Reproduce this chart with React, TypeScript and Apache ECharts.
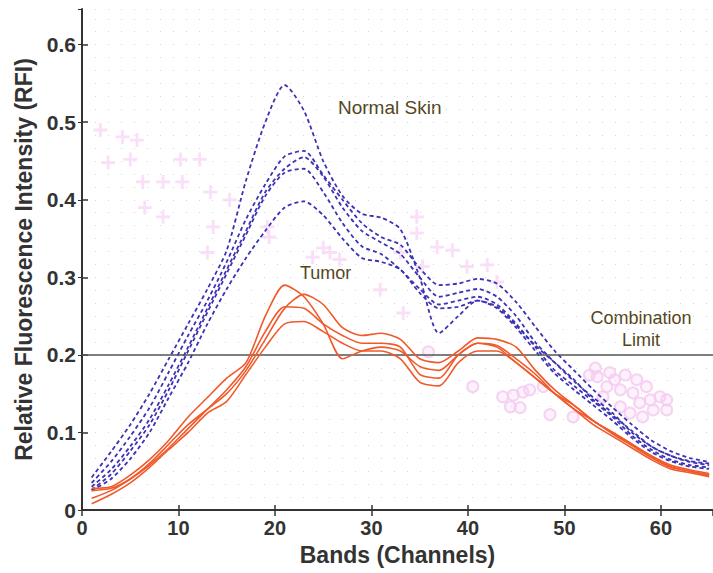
import React, { useEffect, useRef } from "react";
import * as echarts from "echarts";

// Band (channel) positions at which the curves were read
const bands = [1, 3, 5, 7, 9, 11, 13, 15, 17, 19, 21, 23, 25, 27, 29, 31, 33, 35, 37, 39, 41, 43, 45, 47, 49, 51, 53, 55, 57, 59, 61, 63, 65];

// Normal skin spectra (dashed blue)
const normal1 = [0.042, 0.075, 0.11, 0.15, 0.195, 0.24, 0.285, 0.335, 0.425, 0.5, 0.548, 0.515, 0.45, 0.405, 0.382, 0.377, 0.362, 0.3, 0.228, 0.25, 0.27, 0.262, 0.238, 0.212, 0.19, 0.168, 0.142, 0.122, 0.102, 0.082, 0.07, 0.063, 0.06];
const normal2 = [0.035, 0.062, 0.095, 0.132, 0.178, 0.225, 0.27, 0.32, 0.375, 0.42, 0.456, 0.463, 0.432, 0.4, 0.37, 0.352, 0.342, 0.312, 0.29, 0.292, 0.298, 0.292, 0.268, 0.236, 0.205, 0.18, 0.155, 0.132, 0.11, 0.09, 0.076, 0.067, 0.062];
const normal3 = [0.03, 0.052, 0.082, 0.117, 0.162, 0.21, 0.26, 0.31, 0.36, 0.41, 0.44, 0.455, 0.43, 0.39, 0.36, 0.345, 0.33, 0.3, 0.275, 0.28, 0.285, 0.275, 0.25, 0.216, 0.19, 0.166, 0.145, 0.125, 0.1, 0.082, 0.07, 0.062, 0.058];
const normal4 = [0.026, 0.046, 0.076, 0.11, 0.155, 0.205, 0.255, 0.305, 0.355, 0.405, 0.435, 0.44, 0.41, 0.37, 0.34, 0.33, 0.31, 0.285, 0.265, 0.27, 0.275, 0.265, 0.24, 0.21, 0.18, 0.16, 0.14, 0.12, 0.096, 0.078, 0.065, 0.058, 0.055];
const normal5 = [0.025, 0.04, 0.066, 0.1, 0.145, 0.19, 0.24, 0.285, 0.325, 0.36, 0.39, 0.398, 0.38, 0.35, 0.325, 0.32, 0.31, 0.28, 0.26, 0.262, 0.27, 0.26, 0.235, 0.205, 0.176, 0.155, 0.135, 0.115, 0.093, 0.075, 0.063, 0.056, 0.053];

// Tumor spectra (solid red)
const tumor1 = [0.028, 0.03, 0.045, 0.065, 0.09, 0.12, 0.145, 0.17, 0.19, 0.25, 0.29, 0.275, 0.24, 0.195, 0.205, 0.21, 0.205, 0.185, 0.18, 0.2, 0.215, 0.21, 0.19, 0.17, 0.15, 0.135, 0.115, 0.1, 0.085, 0.068, 0.055, 0.05, 0.045];
const tumor2 = [0.025, 0.028, 0.04, 0.06, 0.085, 0.11, 0.13, 0.15, 0.18, 0.22, 0.26, 0.278, 0.265, 0.235, 0.225, 0.228, 0.22, 0.195, 0.19, 0.205, 0.222, 0.22, 0.21, 0.18, 0.155, 0.135, 0.115, 0.1, 0.085, 0.07, 0.058, 0.052, 0.047];
const tumor3 = [0.015, 0.025, 0.04, 0.058, 0.08, 0.105, 0.13, 0.155, 0.185, 0.23, 0.262, 0.26, 0.24, 0.225, 0.215, 0.215, 0.21, 0.175, 0.17, 0.2, 0.215, 0.212, 0.195, 0.175, 0.15, 0.13, 0.115, 0.098, 0.083, 0.068, 0.056, 0.05, 0.045];
const tumor4 = [0.008, 0.02, 0.035, 0.055, 0.078, 0.1, 0.125, 0.14, 0.175, 0.21, 0.24, 0.243, 0.23, 0.215, 0.205, 0.205, 0.195, 0.165, 0.16, 0.19, 0.205, 0.205, 0.19, 0.17, 0.15, 0.13, 0.11, 0.095, 0.08, 0.065, 0.053, 0.048, 0.043];

// Faint background markers: [band, RFI]
const plusPoints = [
  [1.9, 0.49], [4.2, 0.481], [5.7, 0.477], [2.7, 0.448], [5.0, 0.452], [10.2, 0.452], [12.2, 0.452],
  [6.3, 0.423], [8.4, 0.423], [10.4, 0.423], [13.3, 0.41], [15.3, 0.4], [6.5, 0.39], [8.4, 0.378],
  [13.6, 0.365], [19.2, 0.365], [19.4, 0.352], [13.0, 0.332], [23.9, 0.326], [25.7, 0.332], [26.7, 0.323],
  [25.0, 0.338], [30.9, 0.284], [33.3, 0.254], [34.7, 0.378], [34.7, 0.357], [36.8, 0.339], [38.4, 0.335],
  [33.0, 0.332], [35.3, 0.314], [39.9, 0.314], [42.0, 0.316], [43.0, 0.294]
];
const circlePoints = [
  [35.9, 0.204], [40.5, 0.159], [43.6, 0.146], [44.7, 0.148], [45.7, 0.152], [44.4, 0.133], [45.4, 0.132],
  [46.4, 0.155], [47.8, 0.159], [48.5, 0.123], [50.9, 0.12], [52.6, 0.174], [53.4, 0.172], [54.0, 0.146],
  [54.4, 0.159], [54.7, 0.177], [55.8, 0.155], [55.8, 0.133], [56.8, 0.125], [57.1, 0.151], [57.8, 0.138],
  [58.1, 0.12], [58.5, 0.159], [59.2, 0.129], [59.9, 0.146], [60.6, 0.142], [60.6, 0.129], [56.3, 0.174],
  [57.5, 0.168], [55.2, 0.168], [58.9, 0.142], [53.2, 0.183]
];

const limitValue = 0.195;

const xTicks = { min: 0, max: 65.4, interval: 10 };
const yTicks = { min: 0, max: 0.646, interval: 0.1 };

const FONT = "Liberation Sans, Arial, sans-serif";
const BLUE = "#3b32b4";
const RED = "#f05a2a";
const NOTE = "#54461c";

export default function App() {
  const ref = useRef<HTMLDivElement>(null);
  useEffect(() => {
    if (!ref.current) return;
    const chart = echarts.init(ref.current, null, { renderer: "svg" });
    const pair = (ys: number[]) => bands.map((b, i) => [b, ys[i]]);
    const normalSeries = [normal1, normal2, normal3, normal4, normal5].map((ys, k) => ({
      type: "line",
      name: "Normal " + (k + 1),
      data: pair(ys),
      showSymbol: false,
      smooth: 0.25,
      z: 4,
      lineStyle: { color: BLUE, width: 1.8, type: [4, 3] },
    }));
    const tumorSeries = [tumor1, tumor2, tumor3, tumor4].map((ys, k) => ({
      type: "line",
      name: "Tumor " + (k + 1),
      data: pair(ys),
      showSymbol: false,
      smooth: 0.25,
      z: 5,
      lineStyle: { color: RED, width: 1.6 },
      ...(k === 0
        ? {
            markLine: {
              silent: true,
              symbol: "none",
              label: { show: false },
              lineStyle: { color: "#555", width: 1.5, type: "solid" },
              data: [{ yAxis: limitValue }],
            },
          }
        : {}),
    }));
    const option: any = {
      animation: false,
      backgroundColor: "#fff",
      grid: { left: 82, right: 0, top: 9, bottom: 63 },
      xAxis: [
        {
          type: "value",
          position: "bottom",
          ...xTicks,
          axisLine: { lineStyle: { color: "#333", width: 2 } },
          axisTick: { inside: true, length: 5, lineStyle: { color: "#333", width: 1.5 } },
          axisLabel: {
            color: "#333",
            fontSize: 20,
            fontWeight: "bold",
            fontFamily: FONT,
            margin: 8,
            showMaxLabel: false,
          },
          splitLine: { show: false },
          name: "Bands (Channels)",
          nameLocation: "middle",
          nameGap: 33,
          nameTextStyle: { color: "#333", fontSize: 23, fontWeight: "bold", fontFamily: FONT },
        },
        {
          type: "value",
          position: "top",
          ...xTicks,
          axisLine: { show: true, lineStyle: { color: "#333", width: 2 } },
          axisTick: { inside: true, length: 6, lineStyle: { color: "#333", width: 1.5 } },
          axisLabel: { show: false },
          splitLine: { show: false },
        },
      ],
      yAxis: [
        {
          type: "value",
          position: "left",
          ...yTicks,
          axisLine: { show: true, lineStyle: { color: "#333", width: 2 } },
          axisTick: { show: true, inside: true, length: 6, lineStyle: { color: "#333", width: 1.5 } },
          axisLabel: {
            color: "#333",
            fontSize: 21,
            fontWeight: "bold",
            fontFamily: FONT,
            margin: 6,
            showMaxLabel: false,
            formatter: (v: number) => (v === 0 ? "0" : v.toFixed(1)),
          },
          splitLine: { show: true, lineStyle: { color: "#d4d4d4", width: 1, type: [1, 12] } },
          minorTick: { show: false, splitNumber: 6 },
          minorSplitLine: { show: true, lineStyle: { color: "#d4d4d4", width: 1, type: [1, 12] } },
          name: "Relative Fluorescence Intensity (RFI)",
          nameLocation: "middle",
          nameGap: 47,
          nameTextStyle: { color: "#333", fontSize: 23, fontWeight: "bold", fontFamily: FONT },
        },
        {
          type: "value",
          position: "right",
          ...yTicks,
          axisLine: { show: false },
          axisTick: { show: true, inside: true, length: 4, lineStyle: { color: "#333" } },
          axisLabel: { show: false },
          splitLine: { show: false },
        },
      ],
      series: [
        {
          type: "scatter",
          data: plusPoints,
          symbol: "path://M4,0H6V4H10V6H6V10H4V6H0V4H4Z",
          symbolSize: 14,
          z: 1,
          itemStyle: { color: "#f6d2f3", opacity: 0.7 },
        },
        {
          type: "scatter",
          data: circlePoints,
          symbol: "circle",
          symbolSize: 11,
          z: 1,
          itemStyle: { color: "rgba(247,208,244,0.35)", borderColor: "#f5cbf1", borderWidth: 2, opacity: 0.85 },
        },
        ...normalSeries,
        ...tumorSeries,
      ],
      graphic: [
        {
          type: "text",
          left: 338,
          top: 98,
          style: { text: "Normal Skin", fill: NOTE, font: `19px ${FONT}` },
        },
        {
          type: "text",
          left: 300,
          top: 264,
          style: { text: "Tumor", fill: NOTE, font: `18px ${FONT}` },
        },
        {
          type: "text",
          x: 641,
          y: 309,
          style: { text: "Combination", fill: NOTE, font: `18px ${FONT}`, align: "center", verticalAlign: "top" },
        },
        {
          type: "text",
          x: 641,
          y: 331,
          style: { text: "Limit", fill: NOTE, font: `18px ${FONT}`, align: "center", verticalAlign: "top" },
        },
      ],
    };
    chart.setOption(option);
    return () => chart.dispose();
  }, []);
  return <div ref={ref} style={{ position: "fixed", left: 0, top: 0, width: 713, height: 573 }} />;
}
